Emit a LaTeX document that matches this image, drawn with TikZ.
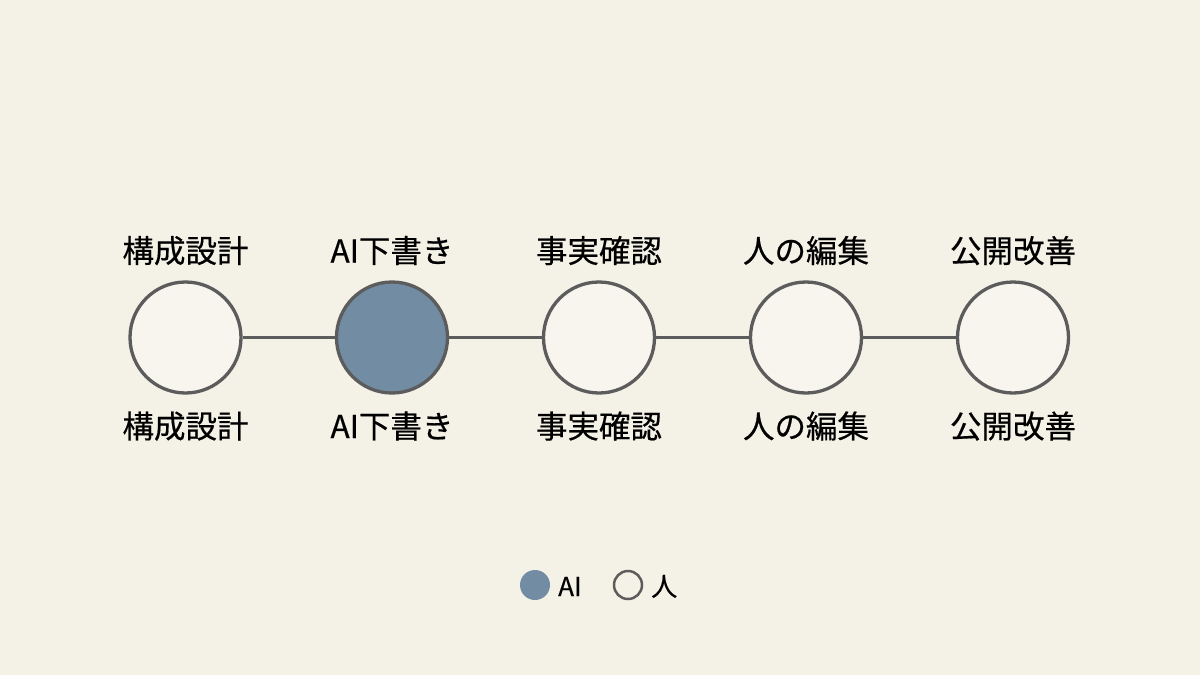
\documentclass[tikz,border=0pt]{standalone}
\usepackage{fontspec}
\newfontfamily\cjk[FakeBold=0.5]{Noto Sans CJK JP}
\definecolor{bg}{HTML}{F4F1E6}
\definecolor{hum}{HTML}{F7F5EE}
\definecolor{aic}{HTML}{728CA3}
\definecolor{edge}{HTML}{5C5C5C}
\begin{document}
\begin{tikzpicture}[x=1pt,y=-1pt,
  stage/.style={circle,draw=edge,line width=3.3pt,minimum size=111pt,inner sep=0pt},
  human/.style={stage,fill=hum},
  ai/.style={stage,fill=aic},
  lbl/.style={font=\cjk\fontsize{31.5}{36}\selectfont,text=black,inner sep=0pt,anchor=base},
  link/.style={draw=edge,line width=3pt},
  lgd/.style={circle,minimum size=30pt,inner sep=0pt},
  lgdtxt/.style={font=\cjk\fontsize{26}{30}\selectfont,text=black,inner sep=0pt,anchor=base west}]
\fill[bg] (0,0) rectangle (1200,675);
\useasboundingbox (0,0) rectangle (1200,675);
\node[human] (s1) at (185.5,337.5) {};
\node[ai] (s2) at (392,337.5) {};
\node[human] (s3) at (599,337.5) {};
\node[human] (s4) at (806,337.5) {};
\node[human] (s5) at (1013,337.5) {};
\draw[link] (s1) -- (s2);
\draw[link] (s2) -- (s3);
\draw[link] (s3) -- (s4);
\draw[link] (s4) -- (s5);
\foreach \n/\t in {s1/構成設計,s2/AI下書き,s3/事実確認,s4/人の編集,s5/公開改善}{
  \node[lbl] (\n a) at (\n.center |- 0,262.5) {\t};
  \node[lbl] (\n b) at (\n.center |- 0,438) {\t};
}
\node[lgd,fill=aic] (la) at (535,585) {};
\node[lgdtxt] (lat) at (558,596) {AI};
\node[lgd,draw=edge,line width=2.5pt,minimum size=28pt] (lh) at (628,585) {};
\node[lgdtxt] (lht) at (651,596) {人};
\end{tikzpicture}
\end{document}
